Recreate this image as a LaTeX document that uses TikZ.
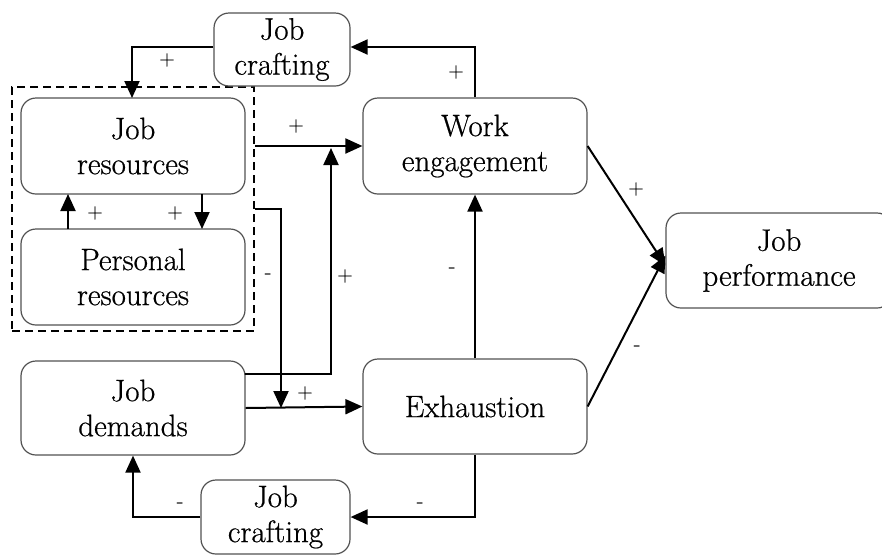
\documentclass[tikz,border=0pt]{standalone}
\usepackage{fontspec}
\newfontfamily\diagfont{Latin Modern Roman}[FakeBold=0.6]
\usetikzlibrary{arrows.meta}
\begin{document}
\begin{tikzpicture}[x=1pt,y=-1pt,
  box/.style={draw=black!68, line width=1.2pt, fill=white, rounded corners=15pt,
    align=center, inner sep=0pt, font=\diagfont\fontsize{31}{35}\selectfont},
  group/.style={draw=black, dashed, dash pattern=on 8pt off 5pt, line width=1.8pt,
    inner sep=0pt},
  link/.style={draw=black, line width=2pt,
    -{Triangle[length=17pt,width=15pt]}},
  sign/.style={inner sep=0pt, font=\diagfont\fontsize{21}{24}\selectfont}
]
\useasboundingbox (0,0) rectangle (882,555);

% resource group frame
\node[group, minimum width=242pt, minimum height=244pt] (grp) at (133,209) {};

% boxes
\node[box, minimum width=136pt, minimum height=73pt] (jct) at (282,49.5) {Job\\crafting};
\node[box, minimum width=224pt, minimum height=96pt] (jr) at (133,146) {Job\\resources};
\node[box, minimum width=224pt, minimum height=96pt] (pr) at (133,277) {Personal\\resources};
\node[box, minimum width=224pt, minimum height=96pt] (we) at (475,146) {Work\\engagement};
\node[box, minimum width=224pt, minimum height=94pt] (jd) at (133,408) {Job\\demands};
\node[box, minimum width=224pt, minimum height=95pt] (ex) at (475,406.5) {Exhaustion};
\node[box, minimum width=226pt, minimum height=95pt] (jp) at (779,260.5) {Job\\performance};
\node[box, minimum width=149pt, minimum height=74pt] (jcb) at (275.5,517) {Job\\crafting};

% helper points
\coordinate (up1) at (475,47);
\coordinate (jrTop) at (132,98);
\coordinate (tipA) at (331,148);
\coordinate (tipB) at (281,408);
\coordinate (jrBotR) at (202,194);
\coordinate (prTopR) at (202,229);
\coordinate (jrBotL) at (68,194);
\coordinate (prTopL) at (68,229);
\coordinate (jdOut) at (245,374);

% connectors
\draw[link] (we.north) -- (up1) -- (up1 -| jct.east);
\draw[link] (jct.west |- up1) -| (jrTop);
\draw[link] (grp.east |- jr) -- (we.west);
\draw[link] (jdOut) -| (tipA);
\draw[link] (grp.east) -| (tipB);
\draw[link] (jd.east) -- (ex.west);
\draw[link] (ex.north) -- (we.south);
\draw[link] (we.east) -- ([yshift=-5pt]jp.west);
\draw[link] (ex.east) -- ([yshift=5pt]jp.west);
\draw[link] (ex.south) |- (jcb.east);
\draw[link] (jcb.west) -| (jd.south);
\draw[link] (jrBotR) -- (prTopR);
\draw[link] (prTopL) -- (jrBotL);

% signs
\node[sign] (s1) at (456,72) {+};
\node[sign] (s2) at (167,60) {+};
\node[sign] (s3) at (296,126) {+};
\node[sign] (s4) at (345,276) {+};
\node[sign] (s5) at (268,276) {-};
\node[sign] (s6) at (305,393) {+};
\node[sign] (s7) at (452,270) {-};
\node[sign] (s8) at (636,189) {+};
\node[sign] (s9) at (637,348) {-};
\node[sign] (s10) at (420,505) {-};
\node[sign] (s11) at (180,505) {-};
\node[sign] (s12) at (175,213) {+};
\node[sign] (s13) at (95,213) {+};
\end{tikzpicture}
\end{document}
